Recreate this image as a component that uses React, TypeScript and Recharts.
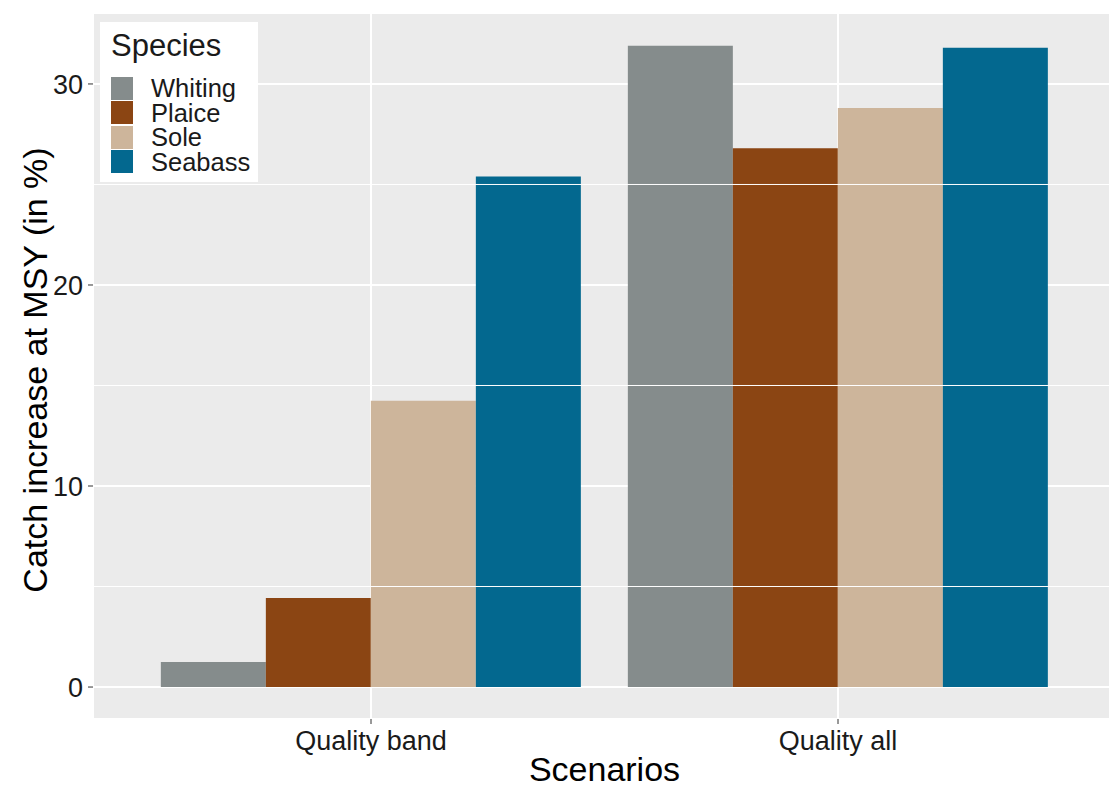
import React from 'react';
import {
  BarChart, Bar, XAxis, YAxis, CartesianGrid, ReferenceLine,
} from 'recharts';

// ============================================================
// CATCH INCREASE AT MSY
// Grouped bars per scenario, one bar per species (ggplot look).
// ============================================================

const scenarios = ['Quality band', 'Quality all'];
const whiting = [1.24, 31.9];
const plaice = [4.43, 26.8];
const sole = [14.24, 28.8];
const seabass = [25.4, 31.8];

const yTicks = [0, 10, 20, 30];
const minorTicks = [5, 15, 25];

const species = [
  { key: 'Whiting', color: '#858c8c' },
  { key: 'Plaice', color: '#8b4513' },
  { key: 'Sole', color: '#cdb59b' },
  { key: 'Seabass', color: '#03688f' },
];

const chartData = scenarios.map((s, i) => ({
  scenario: s,
  Whiting: whiting[i],
  Plaice: plaice[i],
  Sole: sole[i],
  Seabass: seabass[i],
}));

const FONT = '"Liberation Sans", Arial, Helvetica, sans-serif';

// legend drawn as an overlay so it doesn't eat plot space
function SpeciesLegend() {
  return (
    <div
      style={{
        position: 'absolute',
        left: 100,
        top: 22,
        background: '#ffffff',
        width: 158,
        boxSizing: 'border-box',
        padding: '6px 6px 8px 11px',
        fontFamily: FONT,
        color: '#1a1a1a',
      }}
    >
      <div style={{ fontSize: 31, lineHeight: '36px', marginBottom: 12 }}>Species</div>
      {species.map((s) => (
        <div key={s.key} style={{ display: 'flex', alignItems: 'center', height: 24.5 }}>
          <span style={{ width: 22, height: 23, background: s.color, display: 'inline-block' }} />
          <span style={{ marginLeft: 18, fontSize: 25.5, lineHeight: '24px' }}>{s.key}</span>
        </div>
      ))}
    </div>
  );
}

function YTitle({ viewBox }: any) {
  const cx = viewBox.x + 47;
  const cy = viewBox.y + viewBox.height / 2 + 4;
  return (
    <text
      x={cx}
      y={cy}
      textAnchor="middle"
      transform={`rotate(-90, ${cx}, ${cy})`}
      fontSize={34}
      fontFamily={FONT}
      fill="#000"
    >
      Catch increase at MSY (in %)
    </text>
  );
}

function XTitle({ viewBox }: any) {
  return (
    <text
      x={viewBox.x + viewBox.width / 2 + 3}
      y={viewBox.y + 62}
      textAnchor="middle"
      fontSize={34}
      fontFamily={FONT}
      fill="#000"
    >
      Scenarios
    </text>
  );
}

export default function App() {
  return (
    <div style={{ position: 'absolute', left: 0, top: 0, width: 1110, height: 785, background: '#fff' }}>
      <BarChart
        width={1110}
        height={785}
        data={chartData}
        margin={{ top: 13, right: 0, bottom: 0, left: 0 }}
        barCategoryGap="5%"
        barGap={0}
      >
        <CartesianGrid fill="#ebebeb" stroke="#ffffff" strokeWidth={2} />
        {minorTicks.map((v) => (
          <ReferenceLine key={v} y={v} stroke="#ffffff" strokeWidth={1} />
        ))}
        <XAxis
          dataKey="scenario"
          height={66}
          padding={{ left: 44.5, right: 38.5 }}
          axisLine={false}
          tickSize={5}
          tickMargin={7}
          tickLine={{ stroke: '#333333' }}
          tick={{ fontSize: 27, fill: '#1a1a1a', fontFamily: FONT }}
          label={{ content: <XTitle /> } as any}
        />
        <YAxis
          width={93}
          type="number"
          domain={[-1.59, 33.53]}
          ticks={yTicks}
          allowDataOverflow
          axisLine={false}
          tickSize={5}
          tickMargin={5}
          tickLine={{ stroke: '#333333' }}
          tick={{ fontSize: 27, fill: '#1a1a1a', fontFamily: FONT }}
          label={{ content: <YTitle /> } as any}
        />
        {species.map((s) => (
          <Bar key={s.key} dataKey={s.key} fill={s.color} isAnimationActive={false} />
        ))}
      </BarChart>
      <SpeciesLegend />
    </div>
  );
}
